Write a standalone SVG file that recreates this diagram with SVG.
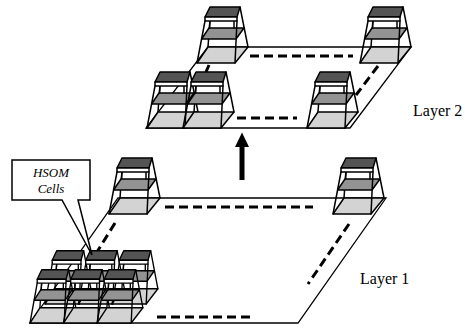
<svg xmlns="http://www.w3.org/2000/svg" xmlns:xlink="http://www.w3.org/1999/xlink" width="465" height="329" viewBox="0 0 465 329">
  <style>
    .edge { fill: none; stroke: #000; stroke-width: 1.3; }
    .dash { fill: none; stroke: #000; stroke-width: 3; stroke-dasharray: 9 5; }
    .leg { fill: none; stroke: #000; stroke-width: 1.5; stroke-linecap: round; }
    .plate { stroke: #000; stroke-width: 1.5; stroke-linejoin: round; }
    .top { fill: #545454; }
    .mid { fill: #939393; }
    .base { fill: #d3d3d3; }
  </style>
  <defs>
    <!-- One stacked cell: origin at the front-left corner of its base plate -->
    <g id="tower">
      <line class="leg" x1="13" y1="-44" x2="11" y2="-16"/>
      <polygon class="plate base" points="0,0 38,0 51,-16 11,-16"/>
      <polygon class="plate mid" points="4.6,-24 39,-24 47,-35 12,-35"/>
      <line class="leg" x1="13" y1="-42" x2="12.5" y2="-35"/>
      <line class="leg" x1="37" y1="-42" x2="37" y2="-35"/>
      <polygon class="plate top" points="8,-46 40,-46 43,-56 13,-56"/>
      <polygon class="plate" fill="#fff" points="8,-46 40,-46 40,-42 8,-42"/>
      <line class="leg" x1="8" y1="-42" x2="0" y2="0"/>
      <line class="leg" x1="40" y1="-42" x2="38" y2="0"/>
      <line class="leg" x1="43" y1="-56" x2="51" y2="-16"/>
    </g>
  </defs>

  <!-- planes and dashed grid lines -->
  <g id="connectors">
    <polygon class="edge" points="208,47 411,47 350,128 146,128"/>
    <line class="dash" x1="250" y1="56" x2="353" y2="56"/>
    <line class="dash" x1="378" y1="66" x2="356" y2="95"/>
    <line class="dash" x1="237" y1="118" x2="297" y2="118"/>
    <line class="dash" x1="209" y1="65" x2="206" y2="72"/>

    <polygon class="edge" points="118,198 386,198 298,323 30,323"/>
    <line class="dash" x1="165" y1="207" x2="313" y2="207"/>
    <line class="dash" x1="349" y1="224" x2="308" y2="284"/>
    <line class="dash" x1="157" y1="317" x2="252" y2="317"/>
    <line class="dash" x1="115" y1="223" x2="97" y2="252"/>

    <!-- arrow from Layer 1 up to Layer 2 -->
    <rect x="239.5" y="146" width="5" height="34" fill="#000"/>
    <polygon points="235,147 242,132.5 249,147" fill="#000"/>
  </g>

  <!-- Layer 2 cells -->
  <g id="l2-back-left"><use xlink:href="#tower" transform="translate(197,63)"/></g>
  <g id="l2-back-right"><use xlink:href="#tower" transform="translate(360,63)"/></g>
  <g id="l2-front-left-a"><use xlink:href="#tower" transform="translate(147,128)"/></g>
  <g id="l2-front-left-b"><use xlink:href="#tower" transform="translate(183,128)"/></g>
  <g id="l2-front-right"><use xlink:href="#tower" transform="translate(307,128)"/></g>

  <!-- Layer 1 cells -->
  <g id="l1-back-left"><use xlink:href="#tower" transform="translate(109,214)"/></g>
  <g id="l1-back-right"><use xlink:href="#tower" transform="translate(333,214)"/></g>

  <!-- cluster of HSOM cells -->
  <g id="l1-cluster">
    <use xlink:href="#tower" transform="translate(45,304) scale(0.9,0.95)"/>
    <use xlink:href="#tower" transform="translate(78.5,304) scale(0.9,0.95)"/>
    <use xlink:href="#tower" transform="translate(112,304) scale(0.9,0.95)"/>
    <use xlink:href="#tower" transform="translate(30,323) scale(0.9,0.95)"/>
    <use xlink:href="#tower" transform="translate(63.5,323) scale(0.9,0.95)"/>
    <use xlink:href="#tower" transform="translate(97,323) scale(0.9,0.95)"/>
  </g>

  <!-- callout -->
  <g id="callout">
    <path d="M12,160 H90 V200 H78 L92,255 L62,200 H12 Z" fill="#fff" stroke="#000" stroke-width="1.5" stroke-linejoin="miter"/>
    <text x="51" y="177" font-family="'Liberation Serif', 'Times New Roman', serif" font-style="italic" font-size="13" text-anchor="middle">HSOM</text>
    <text x="51" y="193" font-family="'Liberation Serif', 'Times New Roman', serif" font-style="italic" font-size="13" text-anchor="middle">Cells</text>
  </g>

  <g id="labels" font-family="'Liberation Serif', 'Times New Roman', serif" font-size="16">
    <text x="413" y="116">Layer 2</text>
    <text x="360" y="284">Layer 1</text>
  </g>
</svg>
